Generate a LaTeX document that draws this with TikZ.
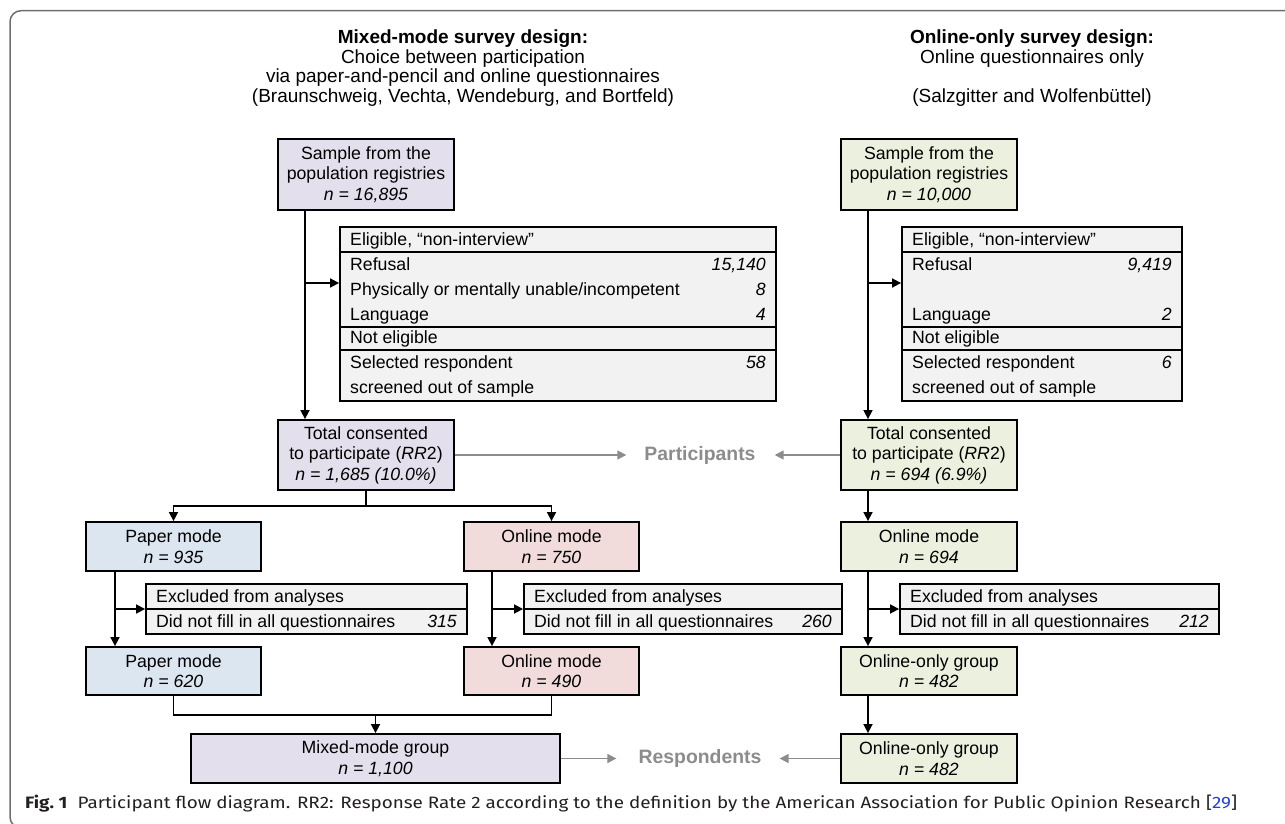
\documentclass[tikz,border=0pt]{standalone}
\usepackage{fontspec}
\setmainfont{Liberation Sans}
\newfontfamily\capfont{Fira Sans}
\usepackage{graphicx}
\usetikzlibrary{arrows.meta}
\definecolor{purp}{HTML}{E4DFEC}
\definecolor{grn}{HTML}{EBF1DE}
\definecolor{blu}{HTML}{DCE6F1}
\definecolor{pnk}{HTML}{F2DCDB}
\definecolor{tabgray}{HTML}{F2F2F2}
\definecolor{arrgray}{HTML}{8C8C8C}
\definecolor{framegray}{HTML}{6E6E6E}
\definecolor{linkblue}{HTML}{1F3FE0}
\definecolor{captext}{HTML}{231F20}
\begin{document}
\begin{tikzpicture}[x=1pt,y=-1pt,
  font=\fontsize{17.7}{20.5}\selectfont,
  box/.style={draw, line width=1.8pt, align=center, inner sep=0pt},
  tab/.style={draw, line width=1.8pt, fill=tabgray, inner sep=0pt},
  rule/.style={line width=1.8pt},
  arr/.style={line width=1.6pt, -{Triangle[length=9pt,width=9pt]}},
  ln/.style={line width=1.6pt},
  garr/.style={line width=1.6pt, draw=arrgray, -{Triangle[length=9pt,width=9pt]}, arrgray},
  lbl/.style={font=\fontsize{19.4}{22}\selectfont\bfseries, text=arrgray, inner sep=0pt},
  tt/.style={anchor=base west, inner sep=0pt},
  tn/.style={anchor=base east, inner sep=0pt, font=\fontsize{17.7}{20.5}\selectfont\itshape},
  ttl/.style={anchor=base, inner sep=0pt, font=\fontsize{19}{21}\selectfont}]
\useasboundingbox (0,0) rectangle (1285,824);
\draw[framegray, line width=1.5pt, rounded corners=11pt] (10,10.7) rectangle (1320,828);

% titles
\node[ttl] (tl1) at (463,44) {\textbf{Mixed-mode survey design:}};
\node[ttl] (tl2) at (463,63.5) {Choice between participation};
\node[ttl] (tl3) at (463,83) {via paper-and-pencil and online questionnaires};
\node[ttl] (tl4) at (463,102.5) {(Braunschweig, Vechta, Wendeburg, and Bortfeld)};
\node[ttl] (tr1) at (1032,44) {\textbf{Online-only survey design:}};
\node[ttl] (tr2) at (1032,63.5) {Online questionnaires only};
\node[ttl] (tr4) at (1032,102.5) {(Salzgitter and Wolfenbüttel)};

% ---------------- left column
\node[box, fill=purp, minimum width=176pt, minimum height=71pt] (sL) at (366,174.5)
  {Sample from the\\population registries\\\textit{n = 16,895}};
\node[tab, minimum width=436pt, minimum height=174pt] (tabL) at (558,314) {};
\draw[rule] (340,252) -- (776,252);
\draw[rule] (340,327) -- (776,327);
\draw[rule] (340,350) -- (776,350);
\node[tt] (aL0) at (350,245) {Eligible, “non-interview"};
\node[tt] (aL1) at (350,270) {Refusal};
\node[tn] (nL1) at (766,270) {15,140};
\node[tt] (aL2) at (350,295) {Physically or mentally unable/incompetent};
\node[tn] (nL2) at (766,295) {8};
\node[tt] (aL3) at (350,320) {Language};
\node[tn] (nL3) at (766,320) {4};
\node[tt] (aL4) at (350,343) {Not eligible};
\node[tt] (aL5) at (350,368) {Selected respondent};
\node[tn] (nL5) at (766,368) {58};
\node[tt] (aL6) at (350,393) {screened out of sample};

\node[box, fill=purp, minimum width=176pt, minimum height=70pt] (tL) at (366,455)
  {Total consented\\to participate (\textit{RR}2)\\\textit{n = 1,685 (10.0\%)}};

\coordinate (jL) at (305,283);
\draw[ln] (sL.south -| jL) -- (jL);
\draw[arr] (jL) -- (tL.north -| jL);
\draw[arr] (jL) -- (tabL.west |- jL);

\node[lbl] (pp) at (700,455) {Participants};

\coordinate (bar) at (366,506);
\node[box, fill=blu, minimum width=175pt, minimum height=49pt] (p1) at (173.5,546.5)
  {Paper mode\\\textit{n = 935}};
\node[box, fill=pnk, minimum width=175pt, minimum height=49pt] (o1) at (551.5,546.5)
  {Online mode\\\textit{n = 750}};
\draw[ln] (tL.south) -- (bar);
\draw[arr] (bar) -| (p1.north);
\draw[arr] (bar) -| (o1.north);

% exclusion tables
\node[tab, minimum width=321pt, minimum height=50pt] (x1) at (306.5,609) {};
\draw[rule] (146,609) -- (467,609);
\node[tt] (x1a) at (156,602) {Excluded from analyses};
\node[tt] (x1b) at (156,627) {Did not fill in all questionnaires};
\node[tn] (x1n) at (457,627) {315};

\node[tab, minimum width=318pt, minimum height=50pt] (x2) at (683,609) {};
\draw[rule] (524,609) -- (842,609);
\node[tt] (x2a) at (534,602) {Excluded from analyses};
\node[tt] (x2b) at (534,627) {Did not fill in all questionnaires};
\node[tn] (x2n) at (832,627) {260};

\node[box, fill=blu, minimum width=175pt, minimum height=48pt] (p2) at (173.5,671)
  {Paper mode\\\textit{n = 620}};
\node[box, fill=pnk, minimum width=175pt, minimum height=48pt] (o2) at (551.5,671)
  {Online mode\\\textit{n = 490}};

\coordinate (j1) at (115,609);
\coordinate (j2) at (492,609);
\draw[ln] (p1.south -| j1) -- (j1);
\draw[arr] (j1) -- (p2.north -| j1);
\draw[arr] (j1) -- (x1.west |- j1);
\draw[ln] (o1.south -| j2) -- (j2);
\draw[arr] (j2) -- (o2.north -| j2);
\draw[arr] (j2) -- (x2.west |- j2);

\node[box, fill=purp, minimum width=369pt, minimum height=49pt] (mix) at (375.5,758.5)
  {Mixed-mode group\\\textit{n = 1,100}};
\coordinate (m) at (375.5,715);
\draw[ln] (p2.south) |- (m) -| (o2.south);
\draw[arr] (m) -- (mix.north);

\node[lbl] (rr) at (700,758.5) {Respondents};

% ---------------- right column
\node[box, fill=grn, minimum width=176pt, minimum height=71pt] (sR) at (929,174.5)
  {Sample from the\\population registries\\\textit{n = 10,000}};
\node[tab, minimum width=280pt, minimum height=174pt] (tabR) at (1042,314) {};
\draw[rule] (902,252) -- (1182,252);
\draw[rule] (902,327) -- (1182,327);
\draw[rule] (902,350) -- (1182,350);
\node[tt] (aR0) at (912,245) {Eligible, “non-interview"};
\node[tt] (aR1) at (912,270) {Refusal};
\node[tn] (nR1) at (1172,270) {9,419};
\node[tt] (aR3) at (912,320) {Language};
\node[tn] (nR3) at (1172,320) {2};
\node[tt] (aR4) at (912,343) {Not eligible};
\node[tt] (aR5) at (912,368) {Selected respondent};
\node[tn] (nR5) at (1172,368) {6};
\node[tt] (aR6) at (912,393) {screened out of sample};

\node[box, fill=grn, minimum width=176pt, minimum height=70pt] (tR) at (929,455)
  {Total consented\\to participate (\textit{RR}2)\\\textit{n = 694 (6.9\%)}};
\coordinate (jR) at (868,283);
\draw[ln] (sR.south -| jR) -- (jR);
\draw[arr] (jR) -- (tR.north -| jR);
\draw[arr] (jR) -- (tabR.west |- jR);

\node[box, fill=grn, minimum width=176pt, minimum height=49pt] (oR) at (929,546.5)
  {Online mode\\\textit{n = 694}};
\coordinate (jR0) at (868,490);
\draw[arr] (tR.south -| jR0) -- (oR.north -| jR0);

\node[tab, minimum width=319pt, minimum height=50pt] (x3) at (1059.5,609) {};
\draw[rule] (900,609) -- (1219,609);
\node[tt] (x3a) at (910,602) {Excluded from analyses};
\node[tt] (x3b) at (910,627) {Did not fill in all questionnaires};
\node[tn] (x3n) at (1209,627) {212};

\node[box, fill=grn, minimum width=176pt, minimum height=48pt] (oo1) at (929,671)
  {Online-only group\\\textit{n = 482}};
\coordinate (j3) at (868,609);
\draw[ln] (oR.south -| j3) -- (j3);
\draw[arr] (j3) -- (oo1.north -| j3);
\draw[arr] (j3) -- (x3.west |- j3);

\node[box, fill=grn, minimum width=176pt, minimum height=49pt] (oo2) at (929,758.5)
  {Online-only group\\\textit{n = 482}};
\draw[arr] (oo1.south -| j3) -- (oo2.north -| j3);

% gray connectors
\draw[garr] (tL.east) -- ([xshift=-18pt]pp.west);
\draw[garr] (tR.west) -- ([xshift=19pt]pp.east);
\draw[garr] (mix.east) -- ([xshift=-22pt]rr.west);
\draw[garr] (oo2.west) -- ([xshift=18pt]rr.east);

% caption
\node[anchor=base west, inner sep=0pt, text=captext] (cap) at (25,808)
  {\resizebox{1212pt}{\height}{\capfont\fontsize{16.5}{18}\selectfont\textbf{Fig.~1}\hspace{9pt}Participant flow diagram. RR2: Response Rate 2 according to the definition by the American Association for Public Opinion Research [\textcolor{linkblue}{29}]}};
\end{tikzpicture}
\end{document}
